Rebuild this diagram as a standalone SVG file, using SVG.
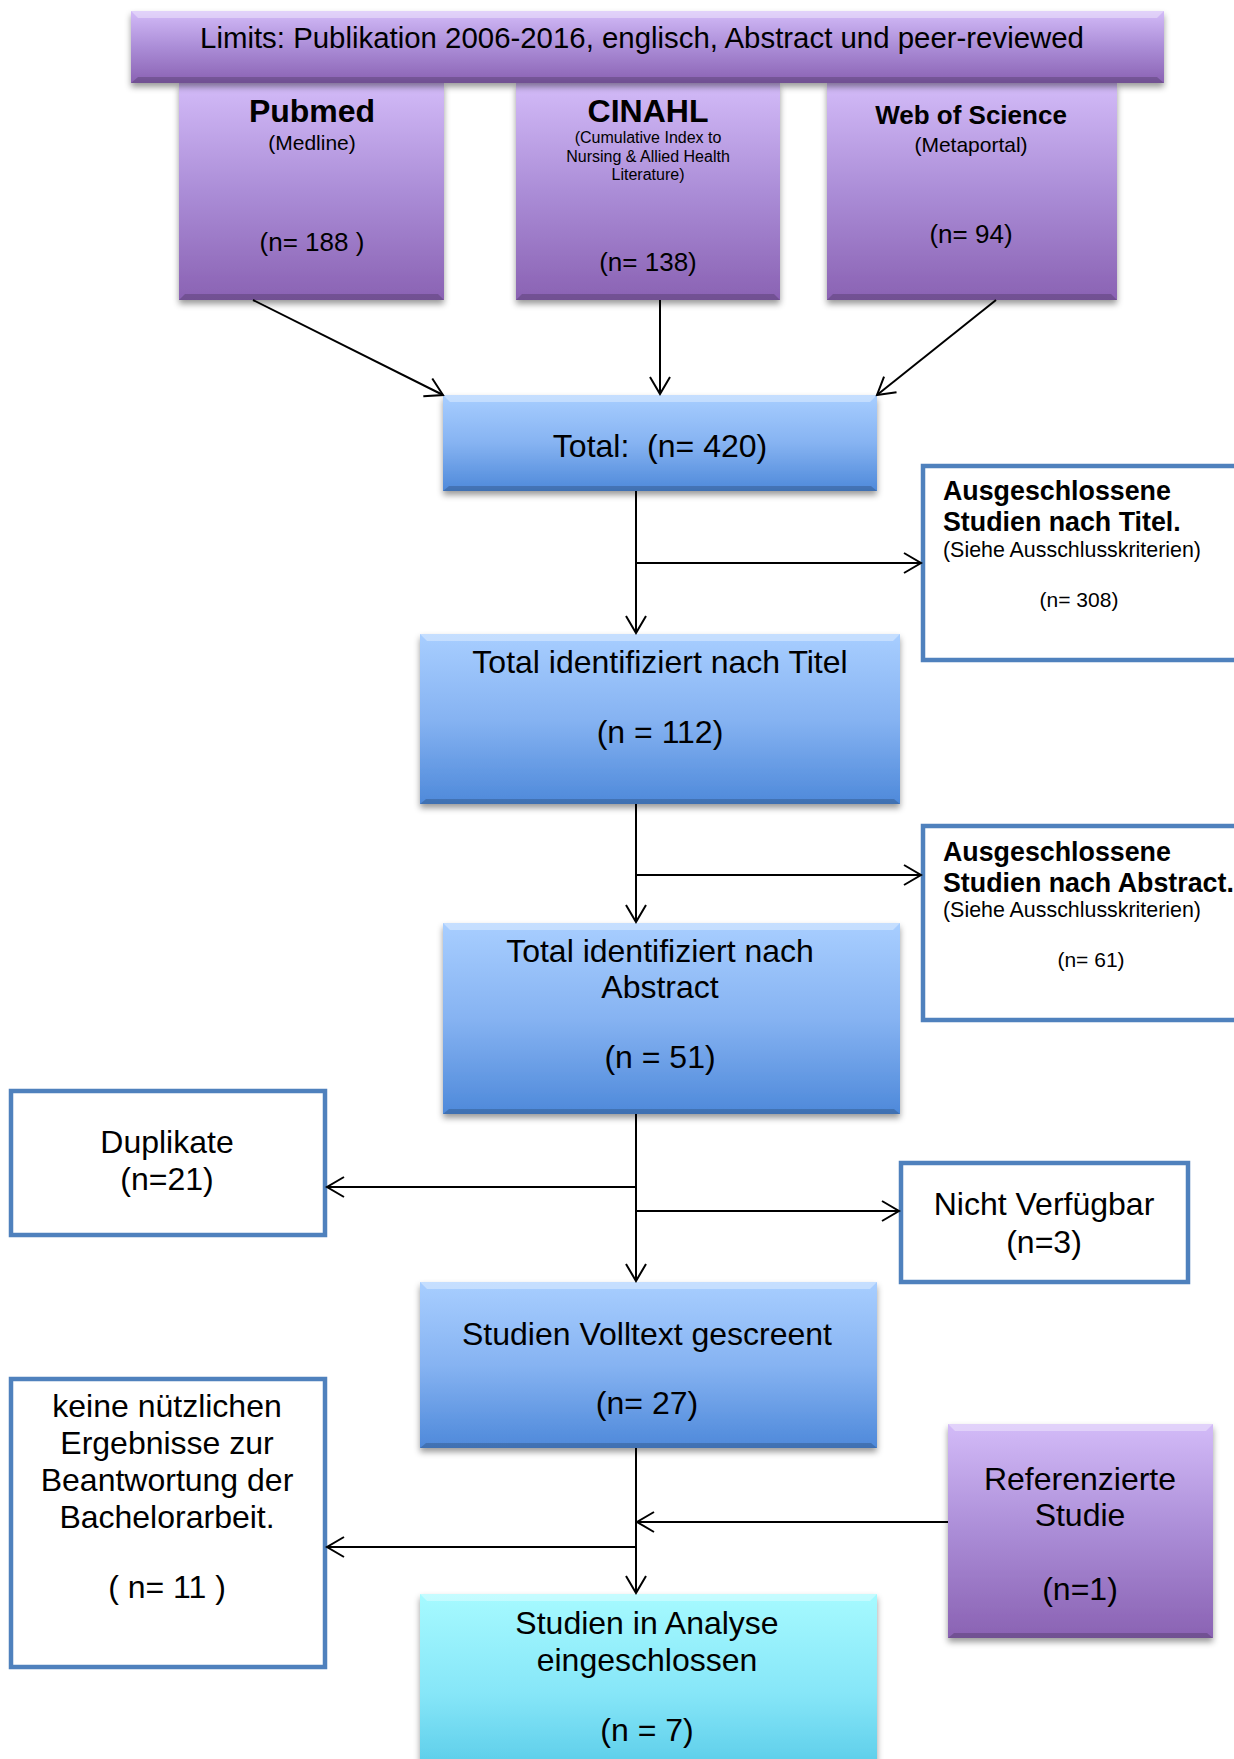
<svg xmlns="http://www.w3.org/2000/svg" width="1234" height="1759" viewBox="0 0 1234 1759">
<style>
.t{font-family:"Liberation Sans",Arial,Helvetica,sans-serif;fill:#000;text-anchor:middle}
.l{text-anchor:start}
.b{font-weight:bold}
.f32{font-size:32px}.f29{font-size:29.4px}.f26{font-size:26px}.f27{font-size:26.8px}.f21{font-size:21px}.f22{font-size:21.4px}.f16{font-size:16px}
.wb{fill:#fff;stroke:#4F81BD;stroke-width:4.5}
.hi{fill:#fff;opacity:.35}
.lo{fill:#000;opacity:.18}
.conn line{stroke:#000;stroke-width:2;fill:none}
</style>
<defs>
<linearGradient id="gp" x1="0" y1="0" x2="0" y2="1">
<stop offset="0" stop-color="#D3BBF8"/><stop offset=".5" stop-color="#AB8DD7"/><stop offset="1" stop-color="#8A62B3"/>
</linearGradient>
<linearGradient id="gb" x1="0" y1="0" x2="0" y2="1">
<stop offset="0" stop-color="#A8CEFF"/><stop offset=".5" stop-color="#86B3F2"/><stop offset="1" stop-color="#4E89DA"/>
</linearGradient>
<linearGradient id="gc" x1="0" y1="0" x2="0" y2="1">
<stop offset="0" stop-color="#A6FAFF"/><stop offset=".5" stop-color="#86E6F8"/><stop offset="1" stop-color="#4CC4E4"/>
</linearGradient>
<filter id="sh" x="-5%" y="-5%" width="110%" height="120%">
<feDropShadow dx="0" dy="4" stdDeviation="3" flood-color="#000" flood-opacity=".4"/>
</filter>
<marker id="ar" viewBox="-20 -12 24 24" refX="0" refY="0" markerWidth="24" markerHeight="24" markerUnits="userSpaceOnUse" orient="auto">
<path d="M-17,-10 L0,0 L-17,10" fill="none" stroke="#000" stroke-width="2"/>
</marker>
</defs>

<g id="pubmed">
<rect x="179" y="83" width="265" height="217" fill="url(#gp)" filter="url(#sh)"/>
<polygon class="lo" points="179,300 444,300 438,294 185,294"/>
<text class="t b f32" x="312" y="122">Pubmed</text>
<text class="t f21" x="312" y="150">(Medline)</text>
<text class="t f26" x="312" y="251">(n= 188 )</text>
</g>
<g id="cinahl">
<rect x="516" y="83" width="264" height="217" fill="url(#gp)" filter="url(#sh)"/>
<polygon class="lo" points="516,300 780,300 774,294 522,294"/>
<text class="t b f32" x="648" y="122">CINAHL</text>
<text class="t f16" x="648" y="143">(Cumulative Index to</text>
<text class="t f16" x="648" y="162">Nursing &amp; Allied Health</text>
<text class="t f16" x="648" y="180">Literature)</text>
<text class="t f26" x="648" y="271">(n= 138)</text>
</g>
<g id="wos">
<rect x="827" y="83" width="290" height="217" fill="url(#gp)" filter="url(#sh)"/>
<polygon class="lo" points="827,300 1117,300 1111,294 833,294"/>
<text class="t b f26" x="971" y="124">Web of Science</text>
<text class="t f21" x="971" y="152">(Metaportal)</text>
<text class="t f26" x="971" y="243">(n= 94)</text>
</g>
<g id="limits">
<rect x="131" y="11" width="1033" height="72" fill="url(#gp)" filter="url(#sh)"/>
<polygon class="hi" points="131,11 1164,11 1157,18 138,18"/>
<polygon class="lo" points="131,83 1164,83 1157,77 138,77"/>
<text class="t f29" x="642" y="48">Limits: Publikation 2006-2016, englisch, Abstract und peer-reviewed</text>
</g>

<g id="total">
<rect x="443" y="395" width="434" height="96" fill="url(#gb)" filter="url(#sh)"/>
<polygon class="hi" points="443,395 877,395 870,402 450,402"/>
<polygon class="lo" points="443,491 877,491 871,486 449,486"/>
<text class="t f32" x="660" y="457" xml:space="preserve" style="white-space:pre">Total:  (n= 420)</text>
</g>
<g id="excl-titel">
<rect class="wb" x="923" y="466" width="320" height="194"/>
<text class="t l b f27" x="943" y="500">Ausgeschlossene</text>
<text class="t l b f27" x="943" y="531">Studien nach Titel.</text>
<text class="t l f22" x="943" y="557">(Siehe Ausschlusskriterien)</text>
<text class="t f21" x="1079" y="607">(n= 308)</text>
</g>
<g id="titel">
<rect x="420" y="634" width="480" height="170" fill="url(#gb)" filter="url(#sh)"/>
<polygon class="hi" points="420,634 900,634 893,641 427,641"/>
<polygon class="lo" points="420,804 900,804 894,799 426,799"/>
<text class="t f32" x="660" y="673">Total identifiziert nach Titel</text>
<text class="t f32" x="660" y="743">(n = 112)</text>
</g>
<g id="excl-abstract">
<rect class="wb" x="923" y="826" width="320" height="194"/>
<text class="t l b f27" x="943" y="861">Ausgeschlossene</text>
<text class="t l b f27" x="943" y="892">Studien nach Abstract.</text>
<text class="t l f22" x="943" y="917">(Siehe Ausschlusskriterien)</text>
<text class="t f21" x="1091" y="967">(n= 61)</text>
</g>
<g id="abstract">
<rect x="443" y="923" width="457" height="191" fill="url(#gb)" filter="url(#sh)"/>
<polygon class="hi" points="443,923 900,923 893,930 450,930"/>
<polygon class="lo" points="443,1114 900,1114 894,1109 449,1109"/>
<text class="t f32" x="660" y="962">Total identifiziert nach</text>
<text class="t f32" x="660" y="998">Abstract</text>
<text class="t f32" x="660" y="1068">(n = 51)</text>
</g>
<g id="duplikate">
<rect class="wb" x="11" y="1091" width="314" height="144"/>
<text class="t f32" x="167" y="1153">Duplikate</text>
<text class="t f32" x="167" y="1190">(n=21)</text>
</g>
<g id="nicht">
<rect class="wb" x="901" y="1163" width="287" height="119"/>
<text class="t f32" x="1044" y="1215">Nicht Verfügbar</text>
<text class="t f32" x="1044" y="1253">(n=3)</text>
</g>
<g id="volltext">
<rect x="420" y="1282" width="457" height="166" fill="url(#gb)" filter="url(#sh)"/>
<polygon class="hi" points="420,1282 877,1282 870,1289 427,1289"/>
<polygon class="lo" points="420,1448 877,1448 871,1443 426,1443"/>
<text class="t f32" x="647" y="1345">Studien Volltext gescreent</text>
<text class="t f32" x="647" y="1414">(n= 27)</text>
</g>
<g id="referenz">
<rect x="948" y="1424" width="265" height="214" fill="url(#gp)" filter="url(#sh)"/>
<polygon class="hi" points="948,1424 1213,1424 1206,1431 955,1431"/>
<polygon class="lo" points="948,1638 1213,1638 1207,1633 954,1633"/>
<text class="t f32" x="1080" y="1490">Referenzierte</text>
<text class="t f32" x="1080" y="1526">Studie</text>
<text class="t f32" x="1080" y="1600">(n=1)</text>
</g>
<g id="keine">
<rect class="wb" x="11" y="1379" width="314" height="288"/>
<text class="t f32" x="167" y="1417">keine nützlichen</text>
<text class="t f32" x="167" y="1454">Ergebnisse zur</text>
<text class="t f32" x="167" y="1491">Beantwortung der</text>
<text class="t f32" x="167" y="1528">Bachelorarbeit.</text>
<text class="t f32" x="167" y="1598">( n= 11 )</text>
</g>
<g id="analyse">
<rect x="420" y="1594" width="457" height="200" fill="url(#gc)" filter="url(#sh)"/>
<polygon class="hi" points="420,1594 877,1594 870,1601 427,1601"/>
<text class="t f32" x="647" y="1634">Studien in Analyse</text>
<text class="t f32" x="647" y="1671">eingeschlossen</text>
<text class="t f32" x="647" y="1741">(n = 7)</text>
</g>

<g id="connectors" class="conn">
<line x1="253" y1="300" x2="443" y2="395" marker-end="url(#ar)"/>
<line x1="660" y1="300" x2="660" y2="394" marker-end="url(#ar)"/>
<line x1="996" y1="300" x2="877" y2="395" marker-end="url(#ar)"/>
<line x1="636" y1="491" x2="636" y2="633" marker-end="url(#ar)"/>
<line x1="636" y1="563" x2="921" y2="563" marker-end="url(#ar)"/>
<line x1="636" y1="804" x2="636" y2="922" marker-end="url(#ar)"/>
<line x1="636" y1="875" x2="921" y2="875" marker-end="url(#ar)"/>
<line x1="636" y1="1114" x2="636" y2="1281" marker-end="url(#ar)"/>
<line x1="636" y1="1187" x2="327" y2="1187" marker-end="url(#ar)"/>
<line x1="636" y1="1211" x2="899" y2="1211" marker-end="url(#ar)"/>
<line x1="636" y1="1448" x2="636" y2="1593" marker-end="url(#ar)"/>
<line x1="948" y1="1522" x2="637" y2="1522" marker-end="url(#ar)"/>
<line x1="636" y1="1547" x2="327" y2="1547" marker-end="url(#ar)"/>
</g>
</svg>
